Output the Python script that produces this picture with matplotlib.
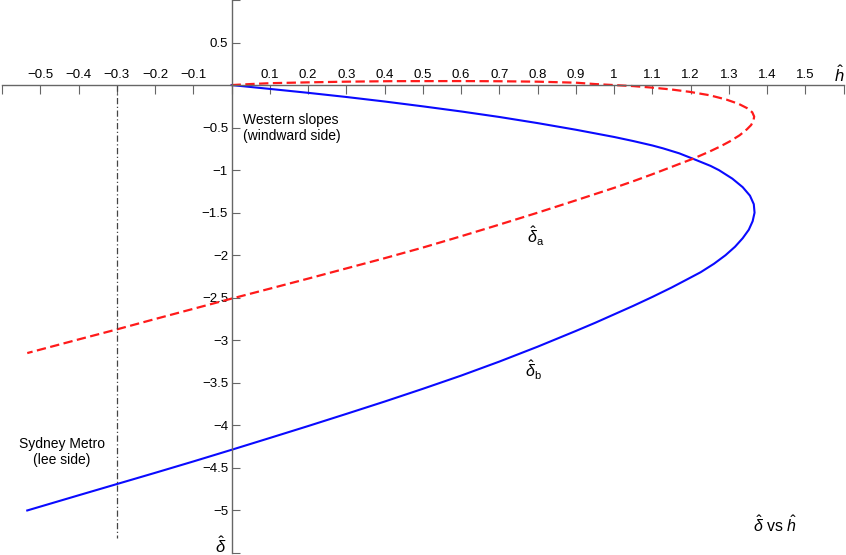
import matplotlib
matplotlib.use("Agg")
import matplotlib.pyplot as plt

plt.rcParams["font.family"] = ["Liberation Sans", "DejaVu Sans"]
plt.rcParams["mathtext.fontset"] = "custom"
plt.rcParams["mathtext.rm"] = "Liberation Sans"
plt.rcParams["mathtext.it"] = "Liberation Sans:italic"

# delta_b (blue, solid), as (h, delta) along the curve
hb = [0, 0.1, 0.2, 0.3, 0.4, 0.5, 0.6, 0.7, 0.8, 0.9, 1.0, 1.05, 1.1, 1.128,
      1.17, 1.206, 1.252, 1.274, 1.309, 1.336, 1.355, 1.365, 1.367, 1.362,
      1.352, 1.336, 1.316, 1.291, 1.261, 1.226, 1.186, 1.15, 1.1, 1.05, 1.0,
      0.95, 0.9, 0.8, 0.7, 0.6, 0.5, 0.4, 0.3, 0.2, 0.1, 0, -0.1, -0.2, -0.3,
      -0.4, -0.534]
db = [0, -0.045, -0.091, -0.14, -0.193, -0.25, -0.31, -0.375, -0.447, -0.525,
      -0.61, -0.658, -0.71, -0.744, -0.802, -0.866, -0.95, -1.0, -1.1, -1.2,
      -1.3, -1.4, -1.5, -1.6, -1.7, -1.8, -1.9, -2.0, -2.1, -2.2, -2.295,
      -2.38, -2.49, -2.595, -2.695, -2.795, -2.89, -3.075, -3.25, -3.415, -3.57,
      -3.72, -3.865, -4.008, -4.148, -4.287, -4.424, -4.558, -4.69, -4.822, -5.0]

# delta_a (red, dashed)
ha = [0, 0.05, 0.1, 0.2, 0.3, 0.42, 0.6, 0.7, 0.8, 0.9, 0.95, 1.0, 1.05, 1.1,
      1.15, 1.198, 1.25, 1.293, 1.325, 1.347, 1.361, 1.366, 1.364, 1.358, 1.347,
      1.328, 1.303, 1.278, 1.25, 1.206, 1.15, 1.1, 1.05, 1.0, 0.9, 0.8, 0.7,
      0.6, 0.5, 0.4, 0.3, 0.2, 0.1, 0, -0.1, -0.2, -0.3, -0.4, -0.534]
da = [0, 0.012, 0.022, 0.032, 0.04, 0.046, 0.047, 0.045, 0.04, 0.028, 0.012,
      0.0, -0.012, -0.03, -0.052, -0.08, -0.12, -0.17, -0.22, -0.27, -0.32,
      -0.37, -0.42, -0.47, -0.52, -0.59, -0.66, -0.72, -0.78, -0.866, -0.962,
      -1.048, -1.13, -1.208, -1.355, -1.5, -1.64, -1.777, -1.91, -2.035, -2.155,
      -2.275, -2.393, -2.51, -2.63, -2.75, -2.872, -2.99, -3.15]

xticks = [-0.6, -0.5, -0.4, -0.3, -0.2, -0.1, 0, 0.1, 0.2, 0.3, 0.4, 0.5, 0.6,
          0.7, 0.8, 0.9, 1.0, 1.1, 1.2, 1.3, 1.4, 1.5, 1.6]
yticks = [1.0, 0.5, 0, -0.5, -1, -1.5, -2, -2.5, -3, -3.5, -4, -4.5, -5, -5.5]
metro_h = -0.3


def fmt(v, hide):
    if v in hide:
        return ""
    return f"{v:g}".replace("-", "\u2212")


fig = plt.figure(figsize=(8.46, 5.55), dpi=100)
ax = fig.add_axes([2 / 846, 2 / 555, 841.7 / 846, 553 / 555])
ax.set_xlim(-0.6, 1.6)
ax.set_ylim(-5.5, 1.0)

ax.plot(hb, db, color="#0a0aff", lw=1.5, solid_joinstyle="round")
ax.plot(ha, da, color="#ff1a1a", lw=1.6, linestyle=(0, (4.2, 2.0)))
ax.plot([metro_h, metro_h], [0, -5.32], color="#444444", lw=0.9,
        linestyle=(0, (5, 2, 1, 2)))

for s in ["bottom", "right"]:
    ax.spines[s].set_visible(False)
ax.spines["left"].set_position(("data", 0))
ax.spines["top"].set_position(("data", 0))
for s in ["left", "top"]:
    ax.spines[s].set_color("#666666")
    ax.spines[s].set_linewidth(1.0)

ax.xaxis.set_ticks_position("top")
ax.set_xticks(xticks)
ax.set_xticklabels([fmt(v, (-0.6, 0, 1.6)) for v in xticks])
ax.set_yticks(yticks)
ax.set_yticklabels([fmt(v, (1.0, 0, -5.5)) for v in yticks])
ax.tick_params(axis="x", direction="in", length=6.2, width=0.8, color="#666666",
               pad=3.0, labelsize=9.5)
ax.tick_params(axis="y", direction="in", length=6, width=0.8, color="#666666",
               pad=2.5, labelsize=9.5)

ax.text(1.588, 0.125, r"$\hat{h}$", fontsize=12, ha="center", va="center")
ax.text(-0.029, -5.41, r"$\hat{\delta}$", fontsize=12, ha="center", va="center")

ax.text(0.031, -0.5, "Western slopes\n(windward side)", fontsize=10,
        ha="left", va="center", linespacing=1.2)
ax.text(-0.444, -4.31, "Sydney Metro\n(lee side)", fontsize=10,
        ha="center", va="center", linespacing=1.2)
ax.text(0.796, -1.78, r"$\hat{\delta}_{\mathrm{a}}$", fontsize=11.5,
        ha="center", va="center")
ax.text(0.79, -3.35, r"$\hat{\delta}_{\mathrm{b}}$", fontsize=11.5,
        ha="center", va="center")
ax.text(1.42, -5.17, r"$\hat{\delta}$ vs $\hat{h}$", fontsize=11.5,
        ha="center", va="center")

fig.savefig("out.png", dpi=100)
